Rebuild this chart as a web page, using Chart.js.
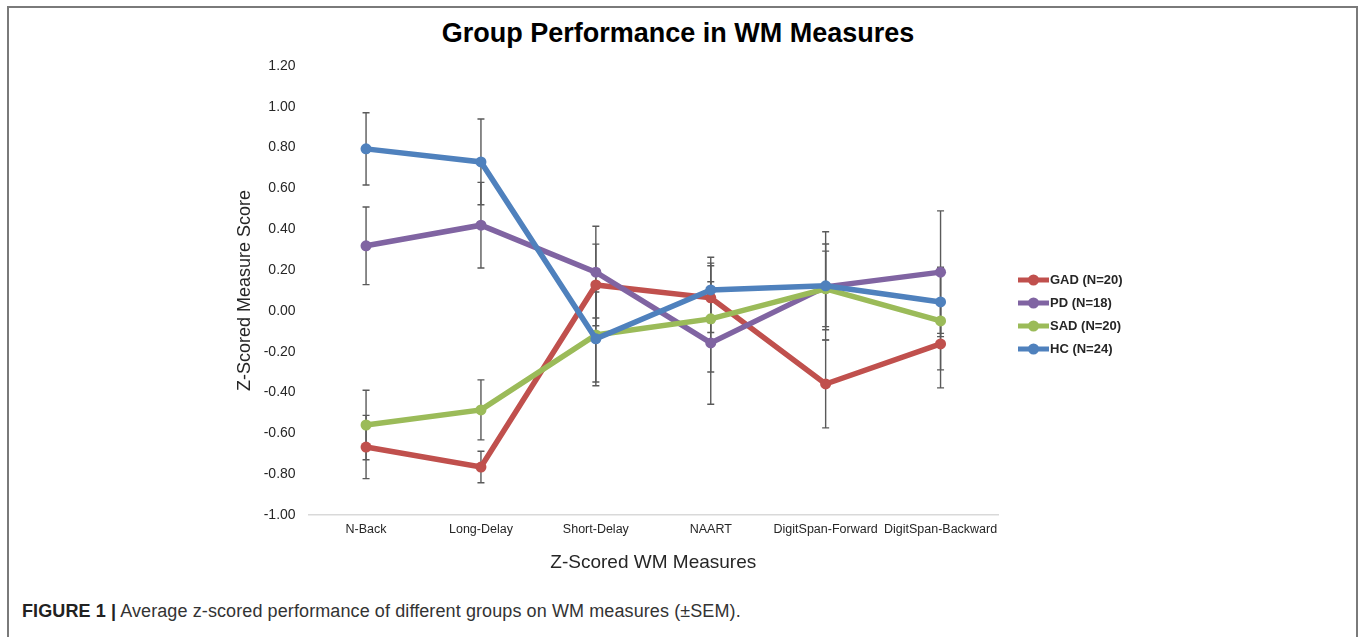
<!DOCTYPE html>
<html>
<head>
<meta charset="utf-8">
<script src="https://cdn.jsdelivr.net/npm/chart.js@4.4.1/dist/chart.umd.min.js"></script>
<style>
  html, body { margin: 0; padding: 0; background: #fff; }
  body { width: 1360px; height: 637px; position: relative; overflow: hidden; font-family: "Liberation Sans", Arial, sans-serif; }
  #frame { position: absolute; left: 7px; top: 6px; width: 1347px; height: 640px; border: 2px solid #7a7a7a; border-bottom: none; }
  #wrap { position: absolute; left: 0; top: 0; width: 1360px; height: 600px; }
  #title { position: absolute; left: 0; width: 1356px; top: 17px; text-align: center; font-size: 27px; font-weight: bold; color: #000; line-height: 32px; }
  #caption { position: absolute; left: 22px; top: 601px; font-size: 18px; letter-spacing: 0.1px; color: #333; white-space: nowrap; }
  #caption b { color: #222; }
</style>
</head>
<body>
<div id="frame"></div>
<div id="title">Group Performance in WM Measures</div>
<div id="wrap"><canvas id="chartCanvas" width="1360" height="600"></canvas></div>
<div id="caption"><b>FIGURE 1 |</b> Average z-scored performance of different groups on WM measures (±SEM).</div>
<script>
const measures = ["N-Back", "Long-Delay", "Short-Delay", "NAART", "DigitSpan-Forward", "DigitSpan-Backward"];
const groupNames = ["GAD (N=20)", "PD (N=18)", "SAD (N=20)", "HC (N=24)"];
const groupColors = ["#c0504d", "#8064a2", "#9bbb59", "#4f81bd"];

// mean z-scores
const gadScores = [-0.667, -0.765, 0.127, 0.064, -0.358, -0.162];
const pdScores  = [0.319, 0.420, 0.190, -0.157, 0.118, 0.190];
const sadScores = [-0.559, -0.485, -0.118, -0.039, 0.108, -0.049];
const hcScores  = [0.794, 0.730, -0.137, 0.103, 0.123, 0.044];

// standard error of the mean
const gadSem = [0.155, 0.077, 0.200, 0.170, 0.215, 0.215];
const pdSem  = [0.190, 0.210, 0.225, 0.300, 0.210, 0.300];
const sadSem = [0.170, 0.147, 0.230, 0.260, 0.185, 0.240];
const hcSem  = [0.177, 0.210, 0.230, 0.160, 0.265, 0.170];

const yTicks = [-1.0, -0.8, -0.6, -0.4, -0.2, 0.0, 0.2, 0.4, 0.6, 0.8, 1.0, 1.2];

const allScores = [gadScores, pdScores, sadScores, hcScores];
const allSem = [gadSem, pdSem, sadSem, hcSem];

Chart.defaults.font.family = "'Liberation Sans', Arial, sans-serif";
Chart.defaults.color = "#262626";

// error bars under the lines
const errorBars = {
    id: "errorBars",
    beforeDatasetsDraw(chart) {
        const ctx = chart.ctx;
        const x = chart.scales.x, y = chart.scales.y;
        ctx.save();
        ctx.strokeStyle = "#5a5a5a";
        ctx.lineWidth = 1.4;
        chart.data.datasets.forEach((ds) => {
            ds.data.forEach((v, i) => {
                const px = x.getPixelForValue(i);
                const top = y.getPixelForValue(v + ds.sem[i]);
                const bot = y.getPixelForValue(v - ds.sem[i]);
                ctx.beginPath();
                ctx.moveTo(px, top); ctx.lineTo(px, bot);
                ctx.moveTo(px - 3.5, top); ctx.lineTo(px + 3.5, top);
                ctx.moveTo(px - 3.5, bot); ctx.lineTo(px + 3.5, bot);
                ctx.stroke();
            });
        });
        ctx.restore();
    }
};

// legend: line with a dot, like the original
const sideLegend = {
    id: "sideLegend",
    afterDraw(chart) {
        const ctx = chart.ctx;
        const left = chart.chartArea.right + 20;
        let rowY = 280;
        ctx.save();
        ctx.font = "bold 13px 'Liberation Sans', Arial, sans-serif";
        ctx.textBaseline = "middle";
        groupNames.forEach((name, i) => {
            ctx.strokeStyle = groupColors[i];
            ctx.fillStyle = groupColors[i];
            ctx.lineWidth = 5;
            ctx.beginPath();
            ctx.moveTo(left, rowY); ctx.lineTo(left + 31, rowY);
            ctx.stroke();
            ctx.beginPath();
            ctx.arc(left + 15.5, rowY, 5.5, 0, Math.PI * 2);
            ctx.fill();
            ctx.fillStyle = "#262626";
            ctx.fillText(name, left + 32, rowY);
            rowY += 23;
        });
        ctx.restore();
    }
};

const datasets = groupNames.map((name, i) => ({
    label: name,
    data: allScores[i],
    sem: allSem[i],
    borderColor: groupColors[i],
    backgroundColor: groupColors[i],
    pointBackgroundColor: groupColors[i],
    pointBorderColor: groupColors[i],
    borderWidth: 5.5,
    pointRadius: 5.5,
    pointBorderWidth: 0,
    tension: 0,
    order: 4 - i
}));

new Chart(document.getElementById("chartCanvas"), {
    type: "line",
    data: { labels: measures, datasets: datasets },
    options: {
        responsive: false,
        animation: false,
        layout: { padding: { left: 200, right: 362, top: 66, bottom: 15 } },
        plugins: {
            legend: { display: false },
            tooltip: { enabled: false },
            title: { display: false }
        },
        scales: {
            x: {
                offset: true,
                grid: { display: false, drawTicks: false },
                border: { display: true, color: "#d9d9d9", width: 1.5 },
                ticks: { font: { size: 12.5 }, color: "#262626", padding: 7, maxRotation: 0, autoSkip: false },
                title: { display: true, text: "Z-Scored WM Measures", font: { size: 19 }, color: "#262626", padding: { top: 4, bottom: 11 } },
                afterFit: s => { s.height = 70; }
            },
            y: {
                min: -1,
                max: 1.2,
                afterBuildTicks: s => { s.ticks = yTicks.map(v => ({ value: v })); },
                grid: { display: false, drawTicks: false },
                border: { display: false },
                ticks: { font: { size: 14 }, color: "#262626", padding: 13, callback: v => v.toFixed(2) },
                title: { display: true, text: "Z-Scored Measure Score", font: { size: 18 }, color: "#262626", padding: { top: 34, bottom: 0 } },
                afterFit: s => { s.width = 108.6; }
            }
        }
    },
    plugins: [errorBars, sideLegend]
});
</script>
</body>
</html>
